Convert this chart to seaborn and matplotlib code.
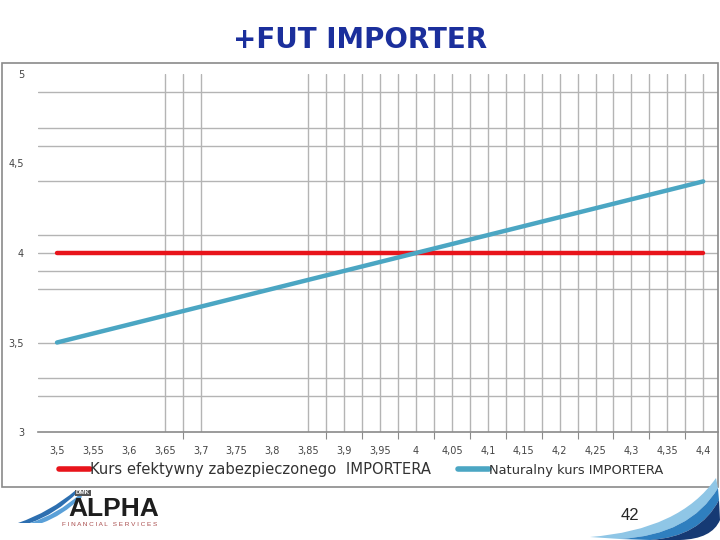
import numpy as np
import pandas as pd
import matplotlib
matplotlib.use("Agg")
import matplotlib.pyplot as plt
import seaborn as sns
from matplotlib.patches import Rectangle, PathPatch
from matplotlib.path import Path
from matplotlib.ticker import FixedLocator

# dane z wykresu
kurs = [3.5, 3.55, 3.6, 3.65, 3.7, 3.75, 3.8, 3.85, 3.9, 3.95,
        4.0, 4.05, 4.1, 4.15, 4.2, 4.25, 4.3, 4.35, 4.4]
kurs_etykiety = ["3,5", "3,55", "3,6", "3,65", "3,7", "3,75", "3,8", "3,85", "3,9", "3,95",
                 "4", "4,05", "4,1", "4,15", "4,2", "4,25", "4,3", "4,35", "4,4"]
efektywny = [4.0, 4.0, 4.0, 4.0, 4.0, 4.0, 4.0, 4.0, 4.0, 4.0,
             4.0, 4.0, 4.0, 4.0, 4.0, 4.0, 4.0, 4.0, 4.0]
naturalny = [3.5, 3.55, 3.6, 3.65, 3.7, 3.75, 3.8, 3.85, 3.9, 3.95,
             4.0, 4.05, 4.1, 4.15, 4.2, 4.25, 4.3, 4.35, 4.4]
y_ticks = [3, 3.5, 4, 4.5, 5]
y_etykiety = ["3", "3,5", "4", "4,5", "5"]

nazwa1 = "Kurs efektywny zabezpieczonego  IMPORTERA"
nazwa2 = "Naturalny kurs IMPORTERA"

df = pd.DataFrame({"kurs": kurs, nazwa1: efektywny, nazwa2: naturalny})

sns.set_style("white")
plt.rcParams["font.family"] = ["DejaVu Sans"]

W, H = 720, 540
fig = plt.figure(figsize=(7.2, 5.4), dpi=100)

def px(x0, y0, x1, y1):
    return [x0 / W, 1 - y1 / H, (x1 - x0) / W, (y1 - y0) / H]

def fp(x, y):
    return (x / W, 1 - y / H)

# ramka wykresu
fig.patches.append(Rectangle(fp(2, 487), 716 / W, 424 / H, transform=fig.transFigure,
                             fill=False, edgecolor="#8a8a8a", lw=1.2))

ax = fig.add_axes(px(38, 74, 718, 432))

sns.lineplot(data=df, x="kurs", y=nazwa1, ax=ax, color="#e8141b", lw=3.2, label=nazwa1)
sns.lineplot(data=df, x="kurs", y=nazwa2, ax=ax, color="#4ba6c3", lw=3.2, label=nazwa2)

ax.set_xlim(3.4735, 4.4206)
ax.set_ylim(3, 5)
ax.set_xlabel("")
ax.set_ylabel("")

# siatka (nieregularna jak w oryginale)
x_grid = [3.65, 3.675, 3.7] + [round(3.85 + 0.025 * i, 3) for i in range(23)]
y_grid = [3.2, 3.3, 3.5, 3.8, 3.9, 4.0, 4.1, 4.4, 4.6, 4.7, 4.9]
ax.xaxis.remove_overlapping_locs = False
ax.yaxis.remove_overlapping_locs = False
ax.xaxis.set_minor_locator(FixedLocator(x_grid))
ax.yaxis.set_minor_locator(FixedLocator(y_grid))
ax.grid(which="minor", color="#b4b4b4", lw=1)
ax.grid(which="major", visible=False)
ax.set_axisbelow(True)

ax.set_xticks(kurs)
ax.set_xticklabels(kurs_etykiety)
ax.set_yticks(y_ticks)
ax.set_yticklabels(y_etykiety)
ax.tick_params(which="both", length=0)
ax.tick_params(axis="x", labelsize=7, labelcolor="#444444", pad=10)
ax.tick_params(axis="y", labelsize=7, labelcolor="#444444", pad=10)

for s in ["top", "right", "left"]:
    ax.spines[s].set_visible(False)
ax.spines["bottom"].set_color("#8a8a8a")
ax.spines["bottom"].set_linewidth(1.2)

# znaczniki osi X
sec = ax.secondary_xaxis("bottom")
sec.set_xticks([3.675] + [round(3.875 + 0.05 * i, 3) for i in range(11)])
sec.set_xticklabels([])
sec.tick_params(length=5, color="#8a8a8a")
sec.spines["bottom"].set_visible(False)

leg = ax.legend(loc="upper left", bbox_to_anchor=(8 / 680, -0.046), ncol=2, frameon=False,
                handlelength=2.1, handletextpad=0.0, columnspacing=1.8, fontsize=10.6)
for t in leg.get_texts():
    t.set_color("#333333")
leg.get_texts()[1].set_fontsize(9.4)
for h in leg.get_lines():
    h.set_linewidth(4)

fig.text(0.5, 1 - 40 / H, "+FUT IMPORTER", ha="center", va="center", fontsize=20,
         fontweight="bold", color="#1b2f9c")
fig.text(630 / W, 1 - 515 / H, "42", ha="center", va="center", fontsize=12,
         family=["Liberation Sans", "DejaVu Sans"])

# logo
def luk(pts, kolor):
    kody = [Path.MOVETO, Path.CURVE3, Path.CURVE3, Path.LINETO, Path.CURVE3, Path.CURVE3, Path.CLOSEPOLY]
    p = Path([fp(*q) for q in pts] + [fp(*pts[0])], kody)
    fig.patches.append(PathPatch(p, transform=fig.transFigure, facecolor=kolor, edgecolor="none"))

luk([(18, 523), (50, 512), (76, 490), (78, 492), (56, 514), (30, 523)], "#2d6fb0")
luk([(30, 523), (58, 514), (80, 494), (82, 497), (62, 516), (42, 523)], "#5aa0d8")
luk([(590, 537), (680, 530), (716, 478), (718, 488), (690, 535), (620, 539)], "#8fc6e6")
luk([(620, 539), (690, 535), (718, 488), (719, 500), (700, 537), (650, 540)], "#2f7fbf")
luk([(650, 540), (700, 537), (719, 500), (720, 520), (712, 539), (680, 540)], "#163a74")

fig.text(68 / W, 1 - 509 / H, "ALPHA", ha="left", va="center", fontsize=19, fontweight="bold",
         color="#1e1e1e", family=["Liberation Sans", "DejaVu Sans"])
fig.text(62 / W, 1 - 524 / H, "F I N A N C I A L   S E R V I C E S", ha="left", va="center",
         fontsize=4.6, color="#a84a4a", family=["Liberation Sans", "DejaVu Sans"])
fig.text(76 / W, 1 - 493 / H, "DMK", ha="left", va="center", fontsize=4.5, fontweight="bold",
         color="white", family=["Liberation Sans", "DejaVu Sans"],
         bbox=dict(boxstyle="square,pad=0.1", facecolor="#555555", edgecolor="none"))

fig.savefig("out.png", dpi=100)
